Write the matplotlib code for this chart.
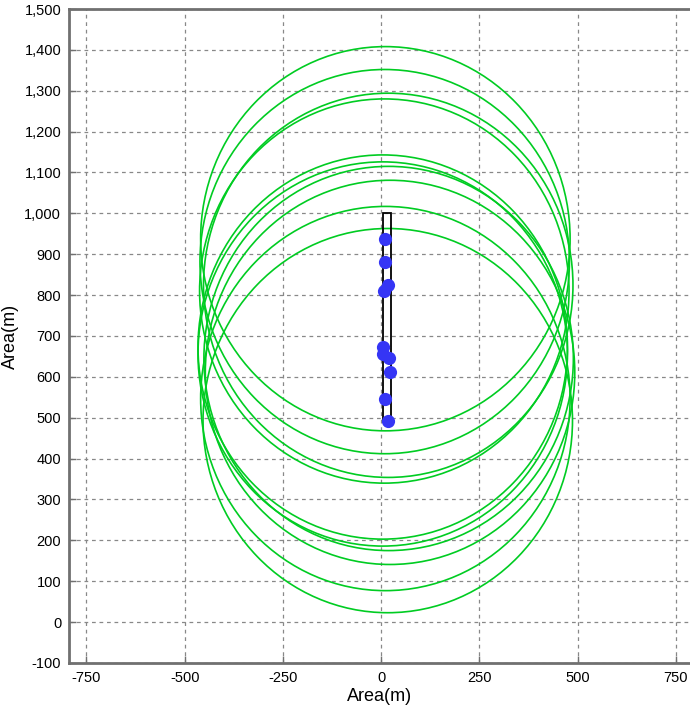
import matplotlib
matplotlib.use('Agg')
import matplotlib.pyplot as plt
from matplotlib.patches import Circle, Rectangle
from matplotlib.ticker import FuncFormatter

# sensor positions (m) and coverage radius
pts_x = [10.7, 9, 18, 8, 4, 4, 19, 22.6, 10.7, 16.8]
pts_y = [938, 882, 824, 810, 673, 656, 645, 611, 547, 493]
radius = 470

# road strip
rect_x = [4, 26]
rect_y = [490, 1000]

x_ticks = [-750, -500, -250, 0, 250, 500, 750]
y_ticks = list(range(-100, 1501, 100))

plt.rcParams['font.family'] = ['Liberation Sans', 'DejaVu Sans']

fig = plt.figure(figsize=(6.9, 7.09), dpi=100)
ax = fig.add_axes([0.1007, 0.0649, 0.9, 0.9224])

for x, y in zip(pts_x, pts_y):
    ax.add_patch(Circle((x, y), radius, fill=False, edgecolor='#00cc22', lw=1.2, zorder=3))

ax.add_patch(Rectangle((rect_x[0], rect_y[0]), rect_x[1] - rect_x[0], rect_y[1] - rect_y[0],
                       fill=False, edgecolor='black', lw=1.3, zorder=4))
ax.plot(pts_x, pts_y, 'o', color='#3535f5', ms=9.5, mec='none', zorder=5)

ax.set_xlim(-793, 787)
ax.set_ylim(-100, 1500)
ax.set_xticks(x_ticks)
ax.set_yticks(y_ticks)
ax.yaxis.set_major_formatter(FuncFormatter(lambda v, p: f'{int(v):,}'))
ax.xaxis.set_major_formatter(FuncFormatter(lambda v, p: f'{int(v)}'))
ax.tick_params(direction='in', length=5, width=1, color='#707070', labelsize=10.5, pad=6)
ax.grid(True, linestyle=(0, (3, 3)), color='#888888', lw=0.9)
ax.set_axisbelow(True)
for s in ax.spines.values():
    s.set_color('#707070')
    s.set_linewidth(2)
ax.spines['right'].set_visible(False)

ax.set_xlabel('Area(m)', fontsize=13, labelpad=2)
ax.set_ylabel('Area(m)', fontsize=13, labelpad=4)

fig.savefig('out.png', dpi=100)
